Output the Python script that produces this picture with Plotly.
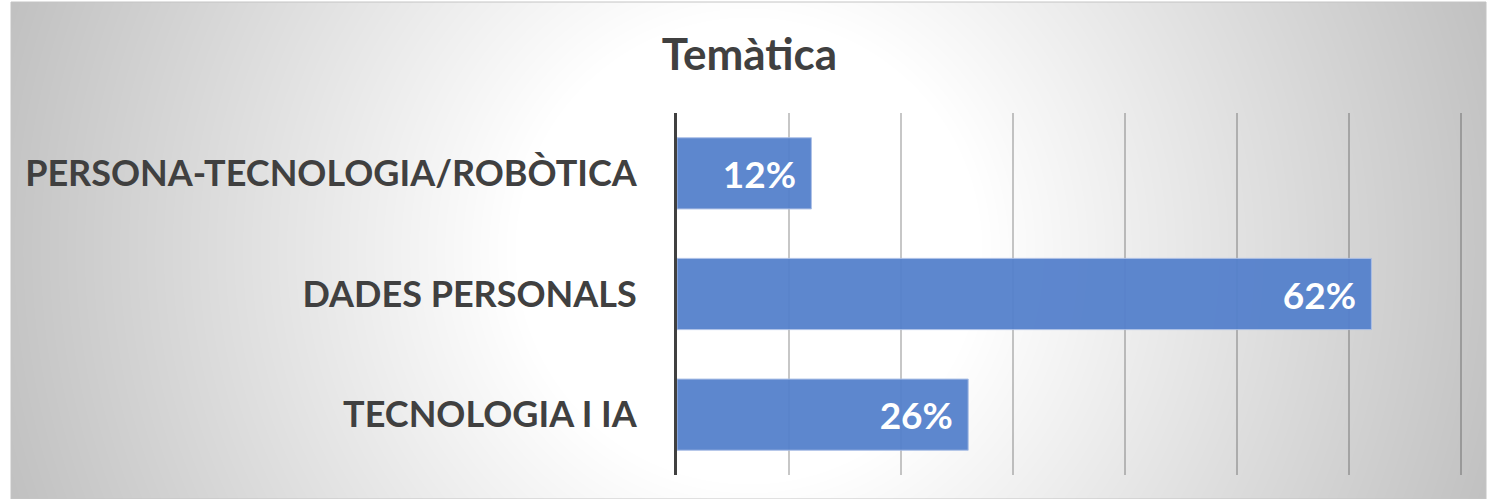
import base64
import struct
import zlib

import numpy as np
import plotly.graph_objects as go

# ---------------- data ----------------
title_text = "Temàtica"
categories = ["PERSONA-TECNOLOGIA/ROBÒTICA", "DADES PERSONALS", "TECNOLOGIA I IA"]
shares = [0.12, 0.62, 0.26]
x_ticks = [0.0, 0.1, 0.2, 0.3, 0.4, 0.5, 0.6, 0.7]

# ---------------- figure geometry ----------------
FW, FH = 1492, 499
CARD_X0, CARD_Y0, CARD_X1, CARD_Y1 = 11, 2, 1486, 499
X_MAX = 0.71
PLOT_X0 = 677
PLOT_X1 = PLOT_X0 + 784 * X_MAX / 0.7
PLOT_Y0, PLOT_Y1 = 113, 475


def png_gray(arr):
    h, w = arr.shape
    raw = b"".join(b"\x00" + arr[i].tobytes() for i in range(h))

    def chunk(tag, data):
        c = struct.pack(">I", len(data)) + tag + data
        return c + struct.pack(">I", zlib.crc32(tag + data) & 0xFFFFFFFF)

    ihdr = struct.pack(">IIBBBBB", w, h, 8, 0, 0, 0, 0)
    return (b"\x89PNG\r\n\x1a\n" + chunk(b"IHDR", ihdr)
            + chunk(b"IDAT", zlib.compress(raw, 9)) + chunk(b"IEND", b""))


# radial gradient background (white centre -> grey edges)
cw, ch = CARD_X1 - CARD_X0, CARD_Y1 - CARD_Y0
yy, xx = np.mgrid[0:ch, 0:cw].astype(float)
cx, cy = cw / 2.0, ch / 2.0
r = np.sqrt((xx - cx) ** 2 + (yy - cy) ** 2) / np.sqrt(cx ** 2 + cy ** 2)
val = 255 - np.clip((r - 0.30) / 0.70, 0, None) * 62
bg = np.clip(val, 0, 255).astype(np.uint8)
bg_uri = "data:image/png;base64," + base64.b64encode(png_gray(bg)).decode()

FONT = "Lato"
TXT = "#404040"

fig = go.Figure()
fig.add_trace(go.Bar(
    y=categories,
    x=shares,
    orientation="h",
    marker=dict(color="#5581CC", opacity=0.95,
                line=dict(color="#A9BEE6", width=1)),
    texttemplate="%{x:.0%}\u2004",
    textposition="inside",
    insidetextanchor="end",
    textfont=dict(family=FONT, size=37, color="white", weight="bold"),
    cliponaxis=False,
    hoverinfo="skip",
))

fig.update_layout(
    width=FW, height=FH,
    margin=dict(l=0, r=0, t=0, b=0),
    paper_bgcolor="white",
    plot_bgcolor="rgba(0,0,0,0)",
    showlegend=False,
    bargap=0.41,
    title=dict(text=title_text, x=749.5 / FW, xanchor="center",
               y=1 - 55 / FH, yanchor="middle",
               font=dict(family=FONT, size=44, color=TXT, weight="bold")),
    xaxis=dict(domain=[PLOT_X0 / FW, PLOT_X1 / FW], range=[0, X_MAX],
               tickvals=x_ticks, showticklabels=False, showgrid=True,
               gridcolor="rgba(0,0,0,0.22)", gridwidth=1.5, zeroline=False,
               showline=False, fixedrange=True),
    yaxis=dict(domain=[1 - PLOT_Y1 / FH, 1 - PLOT_Y0 / FH],
               autorange="reversed", showgrid=False, zeroline=False,
               showline=True, linecolor="#404040", linewidth=3,
               ticks="", ticklabelstandoff=30,
               tickfont=dict(family=FONT, size=36, color=TXT, weight="bold"),
               fixedrange=True),
    images=[dict(source=bg_uri, xref="paper", yref="paper",
                 x=CARD_X0 / FW, y=1 - CARD_Y0 / FH,
                 sizex=cw / FW, sizey=ch / FH,
                 xanchor="left", yanchor="top", sizing="stretch",
                 layer="below")],
    shapes=[dict(type="rect", xref="paper", yref="paper",
                 x0=CARD_X0 / FW, x1=CARD_X1 / FW,
                 y0=0, y1=1 - CARD_Y0 / FH,
                 line=dict(color="#C4C4C4", width=1), layer="below")],
)

fig.write_html(
    "out.html",
    config={"displayModeBar": False},
    post_script="document.body.style.margin='0';document.body.style.overflow='hidden';",
)
